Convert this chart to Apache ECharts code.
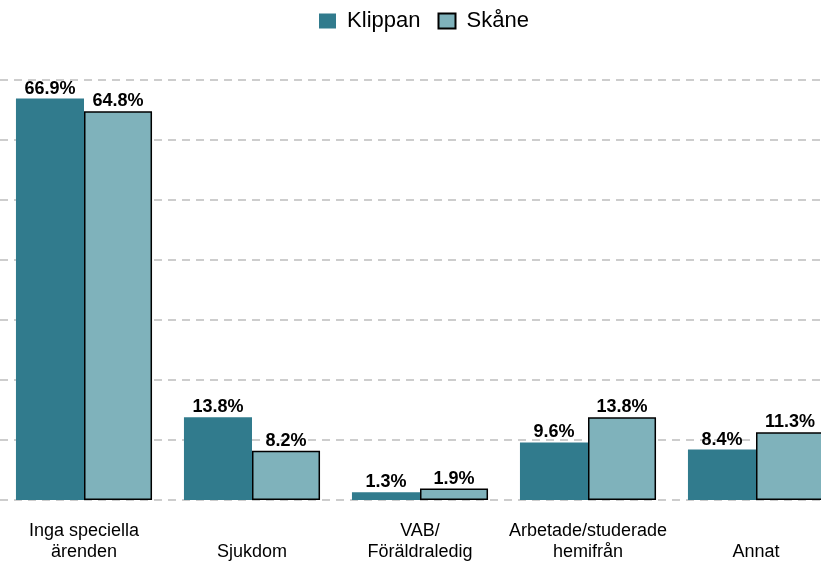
<!DOCTYPE html>
<html>
<head>
<meta charset="utf-8">
<script src="https://cdn.jsdelivr.net/npm/echarts@6/dist/echarts.min.js"></script>
<style>html,body{margin:0;padding:0;background:#fff;}#chart{width:821px;height:565px;}</style>
</head>
<body>
<div id="chart"></div>
<script>
var categories = ["Inga speciella\närenden", "Sjukdom", "VAB/\nFöräldraledig", "Arbetade/studerade\nhemifrån", "Annat"];
var seriesNames = ["Klippan", "Skåne"];
var klippan = [66.9, 13.8, 1.3, 9.6, 8.4];
var skane = [64.8, 8.2, 1.9, 13.8, 11.3];

var font = "Liberation Sans, Arial, sans-serif";
var chart = echarts.init(document.getElementById('chart'));
chart.setOption({
  animation: false,
  textStyle: { fontFamily: font },
  legend: {
    top: 5, left: 314,
    itemWidth: 17, itemHeight: 15, itemGap: 17,
    formatter: function (n) { return ' ' + n; },
    textStyle: { fontSize: 22, color: '#000', fontFamily: font },
    data: [
      { name: seriesNames[0], icon: 'rect' },
      { name: seriesNames[1], icon: 'rect' }
    ]
  },
  grid: { left: 0, right: -19, top: 80, bottom: 65, containLabel: false, outerBoundsMode: 'none' },
  xAxis: {
    type: 'category', data: categories,
    axisLine: { show: false }, axisTick: { show: false },
    axisLabel: {
      fontSize: 18, color: '#000', fontFamily: font, margin: 21, lineHeight: 21,
      interval: 0,
      formatter: function (v) { return v.indexOf('\n') < 0 ? '\n' + v : v; }
    }
  },
  yAxis: {
    type: 'value', min: 0, max: 70, interval: 10,
    axisLabel: { show: false }, axisLine: { show: false }, axisTick: { show: false },
    splitLine: { lineStyle: { color: '#bdbdbd', type: [8, 6], width: 1.5 } }
  },
  series: [
    {
      name: seriesNames[0], type: 'bar', data: klippan,
      barGap: '0%', barCategoryGap: '19%',
      itemStyle: { color: '#317b8d' },
      label: { show: true, position: 'top', distance: 1, fontSize: 18, fontWeight: 'bold', color: '#000', fontFamily: font,
        formatter: function (p) { return p.value.toFixed(1) + '%'; } }
    },
    {
      name: seriesNames[1], type: 'bar', data: skane,
      barGap: '0%', barCategoryGap: '19%',
      itemStyle: { color: '#7fb2bb', borderColor: '#000', borderWidth: 1.5 },
      label: { show: true, position: 'top', distance: 1, fontSize: 18, fontWeight: 'bold', color: '#000', fontFamily: font,
        formatter: function (p) { return p.value.toFixed(1) + '%'; } }
    }
  ]
});
</script>
</body>
</html>
